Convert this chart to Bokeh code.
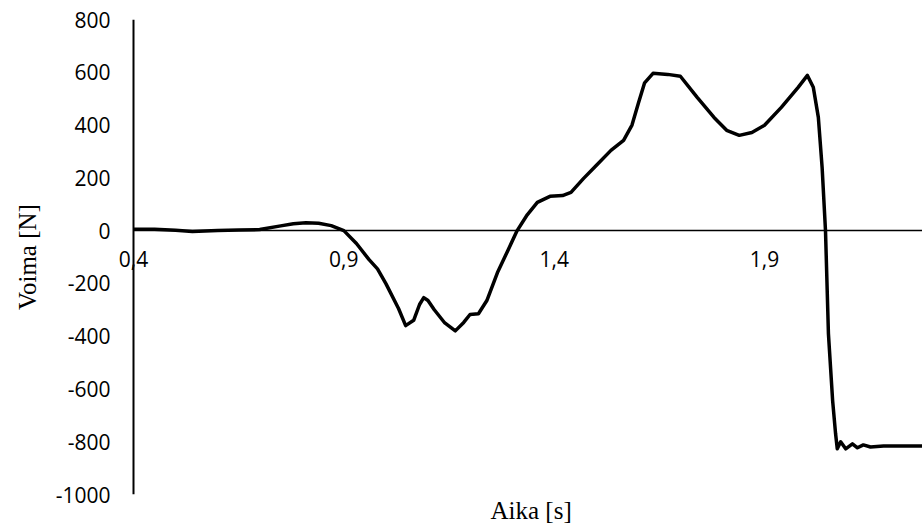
from bokeh.plotting import figure
from bokeh.models import Range1d, FixedTicker, Span, LabelSet, ColumnDataSource, Title
from bokeh.core.properties import value
from bokeh.embed import file_html
from bokeh.resources import INLINE

# ---- data ----
time_s = [0.40, 0.45, 0.50, 0.54, 0.60, 0.65, 0.70, 0.75, 0.78, 0.81,
          0.84, 0.87, 0.90, 0.93, 0.96, 0.98, 1.00, 1.03, 1.047, 1.066,
          1.08, 1.09, 1.10, 1.115, 1.14, 1.165, 1.185, 1.20, 1.22, 1.24,
          1.265, 1.29, 1.312, 1.336, 1.36, 1.39, 1.42, 1.44, 1.47, 1.50,
          1.535, 1.565, 1.585, 1.60, 1.615, 1.635, 1.67, 1.70, 1.74, 1.78,
          1.81, 1.84, 1.87, 1.90, 1.94, 1.98, 2.002, 2.016, 2.028, 2.037,
          2.045, 2.052, 2.062, 2.069, 2.073, 2.081, 2.093, 2.109, 2.121, 2.135,
          2.152, 2.183, 2.28]
force_n = [5, 5, 1, -3, 0, 2, 4, 18, 26, 30,
           28, 19, 0, -49, -110, -145, -201, -295, -360, -340,
           -280, -254, -265, -300, -350, -380, -348, -318, -315, -265,
           -160, -75, 0, 60, 107, 130, 133, 145, 198, 247,
           304, 342, 400, 482, 560, 596, 592, 585, 505, 429,
           380, 361, 372, 399, 467, 543, 588, 543, 429, 239,
           0, -391, -645, -770, -827, -800, -827, -808, -823, -812,
           -820, -816, -816]

x_ticks = [0.4, 0.9, 1.4, 1.9]
x_tick_labels = ["0,4", "0,9", "1,4", "1,9"]
x_end = 2.2756
y_ticks = [-1000, -800, -600, -400, -200, 0, 200, 400, 600, 800]
y_tick_labels = ["-1000", "-800", "-600", "-400", "-200", "0", "200", "400", "600", "800"]

x_label = "Aika [s]"
y_label = "Voima [N]"

TICK_FONT = "Open Sans"
TITLE_FONT = "Liberation Serif"

# frame starts 20 px left of the y axis so that the "0,4" label is not clipped
px_per_unit = 210.33 / 0.5
x_start = x_ticks[0] - 20 / px_per_unit

p = figure(width=922, height=528,
           x_range=Range1d(x_start, x_end),
           y_range=Range1d(y_ticks[0], y_ticks[-1]),
           x_axis_location=None,
           output_backend="svg", toolbar_location=None,
           min_border_left=113, min_border_right=0,
           min_border_top=19, min_border_bottom=34)

p.outline_line_color = None
p.background_fill_color = "white"
p.border_fill_color = "white"
p.xgrid.visible = False
p.ygrid.visible = False

# y axis (left): labels only, its line drawn at x = 0.4 below
ya = p.yaxis[0]
ya.ticker = FixedTicker(ticks=y_ticks)
ya.major_label_overrides = {t: l for t, l in zip(y_ticks, y_tick_labels)}
ya.major_tick_out = 0
ya.major_tick_in = 0
ya.minor_tick_out = 0
ya.minor_tick_in = 0
ya.major_label_standoff = 3
ya.major_label_text_font = TICK_FONT
ya.major_label_text_font_size = "21px"
ya.major_label_text_color = "black"
ya.axis_line_color = None
ya.axis_label = y_label
ya.axis_label_text_font = TITLE_FONT
ya.axis_label_text_font_size = "25px"
ya.axis_label_text_font_style = "normal"
ya.axis_label_text_color = "black"
ya.axis_label_standoff = 12

# x axis title below the frame
p.add_layout(Title(text=x_label, align="left", offset=377, standoff=5,
                   text_font=TITLE_FONT, text_font_size="25px",
                   text_font_style="normal", text_color="black",
                   vertical_align="top"), "below")

# y axis line at x = 0.4
p.add_layout(Span(location=x_ticks[0], dimension="height", line_color="black", line_width=2))
# x axis line crossing at y = 0, starting at the y axis
p.segment(x0=[x_ticks[0]], y0=[0], x1=[x_end + 1], y1=[0], line_color="black", line_width=1.5)

# x tick labels along the zero line
src = ColumnDataSource(dict(x=x_ticks, y=[0] * len(x_ticks), text=x_tick_labels))
p.add_layout(LabelSet(x="x", y="y", text="text", source=src,
                      text_font=value(TICK_FONT), text_font_size="21px", text_color="black",
                      text_align="center", text_baseline="alphabetic",
                      y_offset=-36))

p.line(time_s, force_n, line_color="black", line_width=3.5, line_join="round")

open("out.html", "w").write(file_html(p, INLINE))
